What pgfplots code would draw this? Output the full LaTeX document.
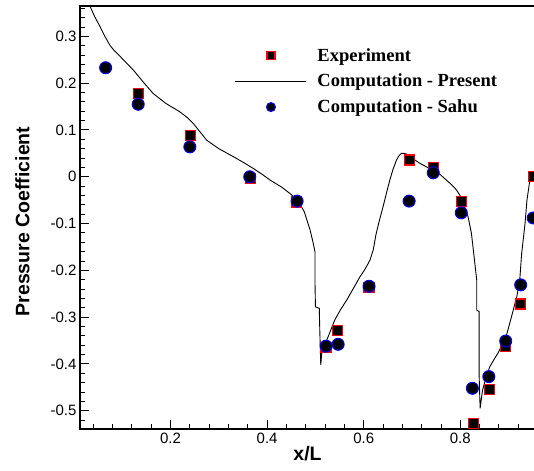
\documentclass[border=0pt]{standalone}
\usepackage{pgfplots}
\pgfplotsset{compat=1.18}
\usepackage{fontspec}
\setmainfont{Liberation Sans}
\newfontfamily\tnr{Liberation Serif}

\pgfplotsset{
  legmark/.style={legend image code/.code={\path[draw=none] (0pt,0pt) -- (80pt,0pt);
    \draw[##1, mark size=#1] plot coordinates {(35.5pt,0pt)};}},
  legline/.style={legend image code/.code={\path[draw=none] (0pt,0pt) -- (80pt,0pt);
    \draw[##1] (0pt,0pt) -- (71pt,0pt);}},
}

\begin{document}
\begin{tikzpicture}
\begin{axis}[
  at={(0pt,0pt)}, anchor=south west,
  width=460pt, height=423pt, scale only axis,
  xmin=0.0125, xmax=0.965, ymin=-0.539, ymax=0.365,
  tick pos=left, tick align=inside,
  xtick={0.2,0.4,0.6,0.8}, xticklabels={0.2,0.4,0.6,0.8},
  ytick={-0.5,-0.4,-0.3,-0.2,-0.1,0,0.1,0.2,0.3},
  yticklabels={-0.5,-0.4,-0.3,-0.2,-0.1,0,0.1,0.2,0.3},
  minor xtick={0.04,0.08,...,0.96},
  minor ytick={-0.52,-0.50,...,0.36},
  major tick length=9pt, minor tick length=5pt,
  every tick/.style={black, line width=1pt},
  axis line style={line width=1.4pt},
  /pgf/number format/assume math mode=true,
  tick label style={font=\fontsize{15}{17}\selectfont},
  xlabel={\textbf{x/L}}, ylabel={\textbf{Pressure Coefficient}},
  label style={font=\fontsize{19.5}{21}\selectfont},
  xlabel style={at={(axis description cs:0.4946,-0.059)}, anchor=center},
  ylabel style={at={(axis description cs:-0.125,0.4905)}, anchor=center},
  legend style={draw=none, fill=none, at={(axis description cs:0.33,0.91)},
    anchor=north west, font=\tnr\bfseries\fontsize{18.5}{20}\selectfont,
    row sep=7.5pt},
  legend cell align=left,
]
\addplot[only marks, mark=square*, mark size=5pt,
  mark options={draw=red, fill=black, line width=1.2pt}, legmark=4pt]
  table {
0.133  0.178
0.2415 0.088
0.365 -0.003
0.461 -0.054
0.522 -0.365
0.545 -0.328
0.611 -0.236
0.694  0.036
0.744  0.019
0.802 -0.053
0.827 -0.527
0.860 -0.454
0.894 -0.363
0.925 -0.272
0.951  0.000
};
\addlegendentry{Experiment}
\addplot[black, line width=0.9pt, no marks, legline]
  table {
0.028  0.380
0.033  0.365
0.043  0.342
0.054  0.321
0.064  0.300
0.0745 0.281
0.083  0.270
0.092  0.261
0.107  0.245
0.123  0.228
0.143  0.203
0.164  0.178
0.190  0.157
0.219  0.139
0.234  0.127
0.247  0.114
0.261  0.096
0.275  0.078
0.300  0.060
0.330  0.043
0.352  0.030
0.371  0.018
0.390  0.005
0.406 -0.007
0.430 -0.022
0.450 -0.038
0.463 -0.050
0.477 -0.075
0.489 -0.114
0.495 -0.140
0.499 -0.160
0.499 -0.221
0.500 -0.278
0.508 -0.281
0.509 -0.328
0.511 -0.402
0.513 -0.377
0.525 -0.345
0.540 -0.306
0.552 -0.284
0.565 -0.263
0.580 -0.236
0.592 -0.214
0.603 -0.197
0.613 -0.178
0.620 -0.155
0.625 -0.125
0.632 -0.095
0.640 -0.064
0.647 -0.035
0.654 -0.007
0.661  0.017
0.668  0.036
0.673  0.045
0.678  0.050
0.684  0.050
0.689  0.0485
0.700  0.040
0.716  0.029
0.730  0.021
0.744  0.014
0.758  0.005
0.771 -0.007
0.782 -0.017
0.792 -0.028
0.800 -0.041
0.806 -0.057
0.811 -0.070
0.816 -0.085
0.823 -0.121
0.827 -0.157
0.834 -0.221
0.834 -0.285
0.839 -0.288
0.839 -0.427
0.841 -0.495
0.846 -0.456
0.853 -0.430
0.861 -0.406
0.870 -0.390
0.879 -0.375
0.888 -0.356
0.896 -0.337
0.906 -0.299
0.917 -0.256
0.923 -0.221
0.927 -0.164
0.934 -0.100
0.938 -0.050
0.943 -0.014
0.948  0.007
0.955  0.014
0.965  0.030
};
\addlegendentry{Computation - Present}
\addplot[only marks, mark=*, mark size=6pt,
  mark options={draw=blue, fill=black, line width=1pt}, legmark=4.5pt]
  table {
0.0656  0.233
0.133   0.155
0.240   0.064
0.364   0.000
0.462  -0.052
0.522  -0.362
0.547  -0.358
0.611  -0.234
0.694  -0.052
0.744   0.0085
0.802  -0.077
0.825  -0.452
0.859  -0.427
0.894  -0.351
0.925  -0.231
0.951  -0.088
};
\addlegendentry{Computation - Sahu}
\end{axis}
\pgfresetboundingbox
\useasboundingbox (-80pt,-41pt) rectangle (454pt,429pt);
\end{tikzpicture}
\end{document}
